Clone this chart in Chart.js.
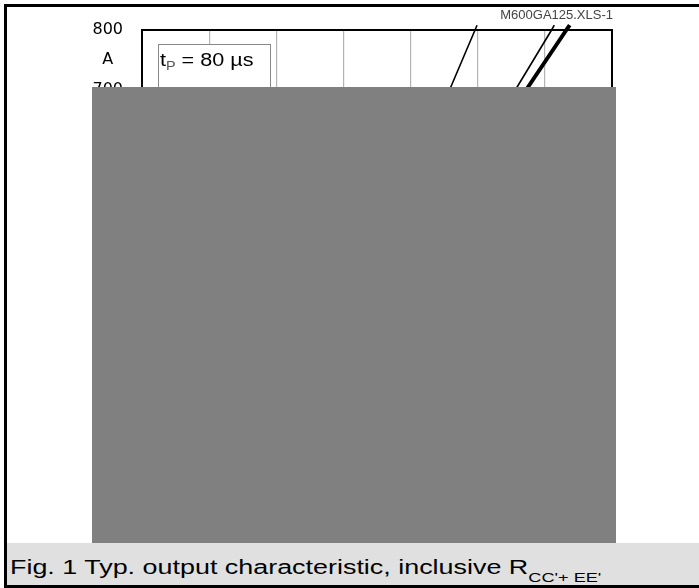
<!DOCTYPE html>
<html>
<head>
<meta charset="utf-8">
<script src="https://cdn.jsdelivr.net/npm/chart.js@4.4.1/dist/chart.umd.min.js"></script>
<style>
html,body{margin:0;padding:0;background:#fff;}
#wrap{position:relative;width:699px;height:588px;overflow:hidden;background:#fff;}
#chart{position:absolute;left:0;top:0;}
.bar{position:absolute;background:#000;}
#mask{position:absolute;left:92px;top:87px;width:524px;height:456px;background:#808080;}
#caption{position:absolute;left:7px;top:543px;width:692px;height:42px;background:#e0e0e0;}
#capText{position:absolute;left:3px;top:14px;font-family:'Liberation Sans',Arial,sans-serif;font-size:20px;line-height:20px;transform:scaleX(1.345);transform-origin:0 0;white-space:nowrap;color:#000;}
#capText sub{font-size:13.5px;vertical-align:-8px;line-height:0;}
</style>
</head>
<body>
<div id="wrap">
  <canvas id="chart" width="699" height="588"></canvas>
  <div id="mask"></div>
  <div id="caption"><div id="capText">Fig. 1 Typ. output characteristic, inclusive R<sub>CC'+ EE'</sub></div></div>
  <div class="bar" style="left:4px;top:4px;width:695px;height:3px;"></div>
  <div class="bar" style="left:4px;top:4px;width:3px;height:584px;"></div>
  <div class="bar" style="left:4px;top:585px;width:695px;height:3px;"></div>
</div>
<script>
// ---- data (collector current in A, collector-emitter voltage in V) ----
const currentA   = [0, 50, 100, 200, 300, 400, 500, 600, 700, 800, 808];
const vceCurve1  = [0.70, 0.95, 1.10, 1.32, 1.52, 1.71, 1.90, 2.10, 2.29, 2.48, 2.495];
const vceCurve2  = [0.60, 0.95, 1.13, 1.43, 1.71, 1.98, 2.25, 2.51, 2.78, 3.05, 3.07];
const vceCurve3  = [0.50, 0.88, 1.05, 1.36, 1.66, 1.96, 2.26, 2.56, 2.86, 3.16, 3.185];
const curveNames = ['Tj = 25 °C', 'Tj = 125 °C (a)', 'Tj = 125 °C (b)'];
const xTicks = [0, 0.5, 1, 1.5, 2, 2.5, 3, 3.5];
const xTickLabels = ['0', '0.5', '1', '1.5', '2', '2.5', '3', ''];
const yUnitTick = 750;
const fileTag = 'M600GA125.XLS-1';
const insetMain = 't';
const insetSub = 'P';
const insetRest = ' = 80 µs';

function pts(vs){ return vs.map((v,i)=>({x:v, y:currentA[i]})); }

const deco = {
  id:'deco',
  beforeDatasetsDraw(chart){
    const {ctx, chartArea:a} = chart;
    ctx.save();
    const bx=a.left+16, by=a.top+14, bw=112, bh=140;
    ctx.fillStyle='#fff'; ctx.fillRect(bx,by,bw,bh);
    ctx.strokeStyle='#888'; ctx.lineWidth=1; ctx.strokeRect(bx+0.5,by+0.5,bw,bh);
    ctx.translate(bx+2, by+22);
    ctx.scale(1.2,1);
    ctx.fillStyle='#000';
    ctx.textBaseline='alphabetic';
    ctx.font='18px "Liberation Sans", Arial, sans-serif';
    ctx.fillText(insetMain,0,0);
    let w=ctx.measureText(insetMain).width;
    ctx.font='12px "Liberation Sans", Arial, sans-serif';
    ctx.fillStyle='#555';
    ctx.fillText(insetSub,w,4);
    w+=ctx.measureText(insetSub).width;
    ctx.font='18px "Liberation Sans", Arial, sans-serif';
    ctx.fillStyle='#000';
    ctx.fillText(insetRest,w,0);
    ctx.restore();
  },
  afterDatasetsDraw(chart){
    const {ctx, chartArea:a} = chart;
    ctx.save();
    ctx.strokeStyle='#000'; ctx.lineWidth=2;
    ctx.strokeRect(a.left, a.top, a.right-a.left, a.bottom-a.top);
    ctx.font='13px "Liberation Sans", Arial, sans-serif';
    ctx.fillStyle='#444'; ctx.textAlign='right';
    ctx.fillText(fileTag, a.right+1, 19);
    ctx.restore();
  }
};

new Chart(document.getElementById('chart'), {
  type:'scatter',
  data:{
    datasets:[
      {label:curveNames[0], data:pts(vceCurve1), showLine:true, borderColor:'#000', borderWidth:1.6, pointRadius:0, clip:false},
      {label:curveNames[1], data:pts(vceCurve2), showLine:true, borderColor:'#000', borderWidth:1.6, pointRadius:0, clip:false},
      {label:curveNames[2], data:pts(vceCurve3), showLine:true, borderColor:'#000', borderWidth:4, pointRadius:0, clip:false}
    ]
  },
  options:{
    responsive:false, animation:false, devicePixelRatio:1,
    layout:{padding:{left:0, top:30, right:87, bottom:38}},
    plugins:{legend:{display:false}, tooltip:{enabled:false}},
    scales:{
      x:{
        type:'linear', min:0, max:3.5,
        afterBuildTicks(s){ s.ticks = xTicks.map(v=>({value:v})); },
        afterFit(s){ s.height = 40; },
        grid:{color:'#b4b4b4', lineWidth:1.2, drawTicks:false},
        border:{display:false},
        ticks:{color:'#000', padding:8, font:{family:'DejaVu Sans', size:16},
          callback:(v)=>{ const i = xTicks.indexOf(v); return i>=0 ? xTickLabels[i] : ''; }}
      },
      y:{
        type:'linear', min:0, max:800,
        afterFit(s){ s.width = 142; },
        grid:{color:(c)=> (c.tick && c.tick.value%100===0) ? '#b4b4b4' : 'rgba(0,0,0,0)', lineWidth:1.2, drawTicks:false},
        border:{display:false},
        ticks:{stepSize:50, autoSkip:false, color:'#000', padding:19, crossAlign:'center',
          font:{family:'DejaVu Sans', size:16},
          callback:(v)=> v===yUnitTick ? 'A' : (v%100===0 ? String(v) : '')}
      }
    }
  },
  plugins:[deco]
});
</script>
</body>
</html>
